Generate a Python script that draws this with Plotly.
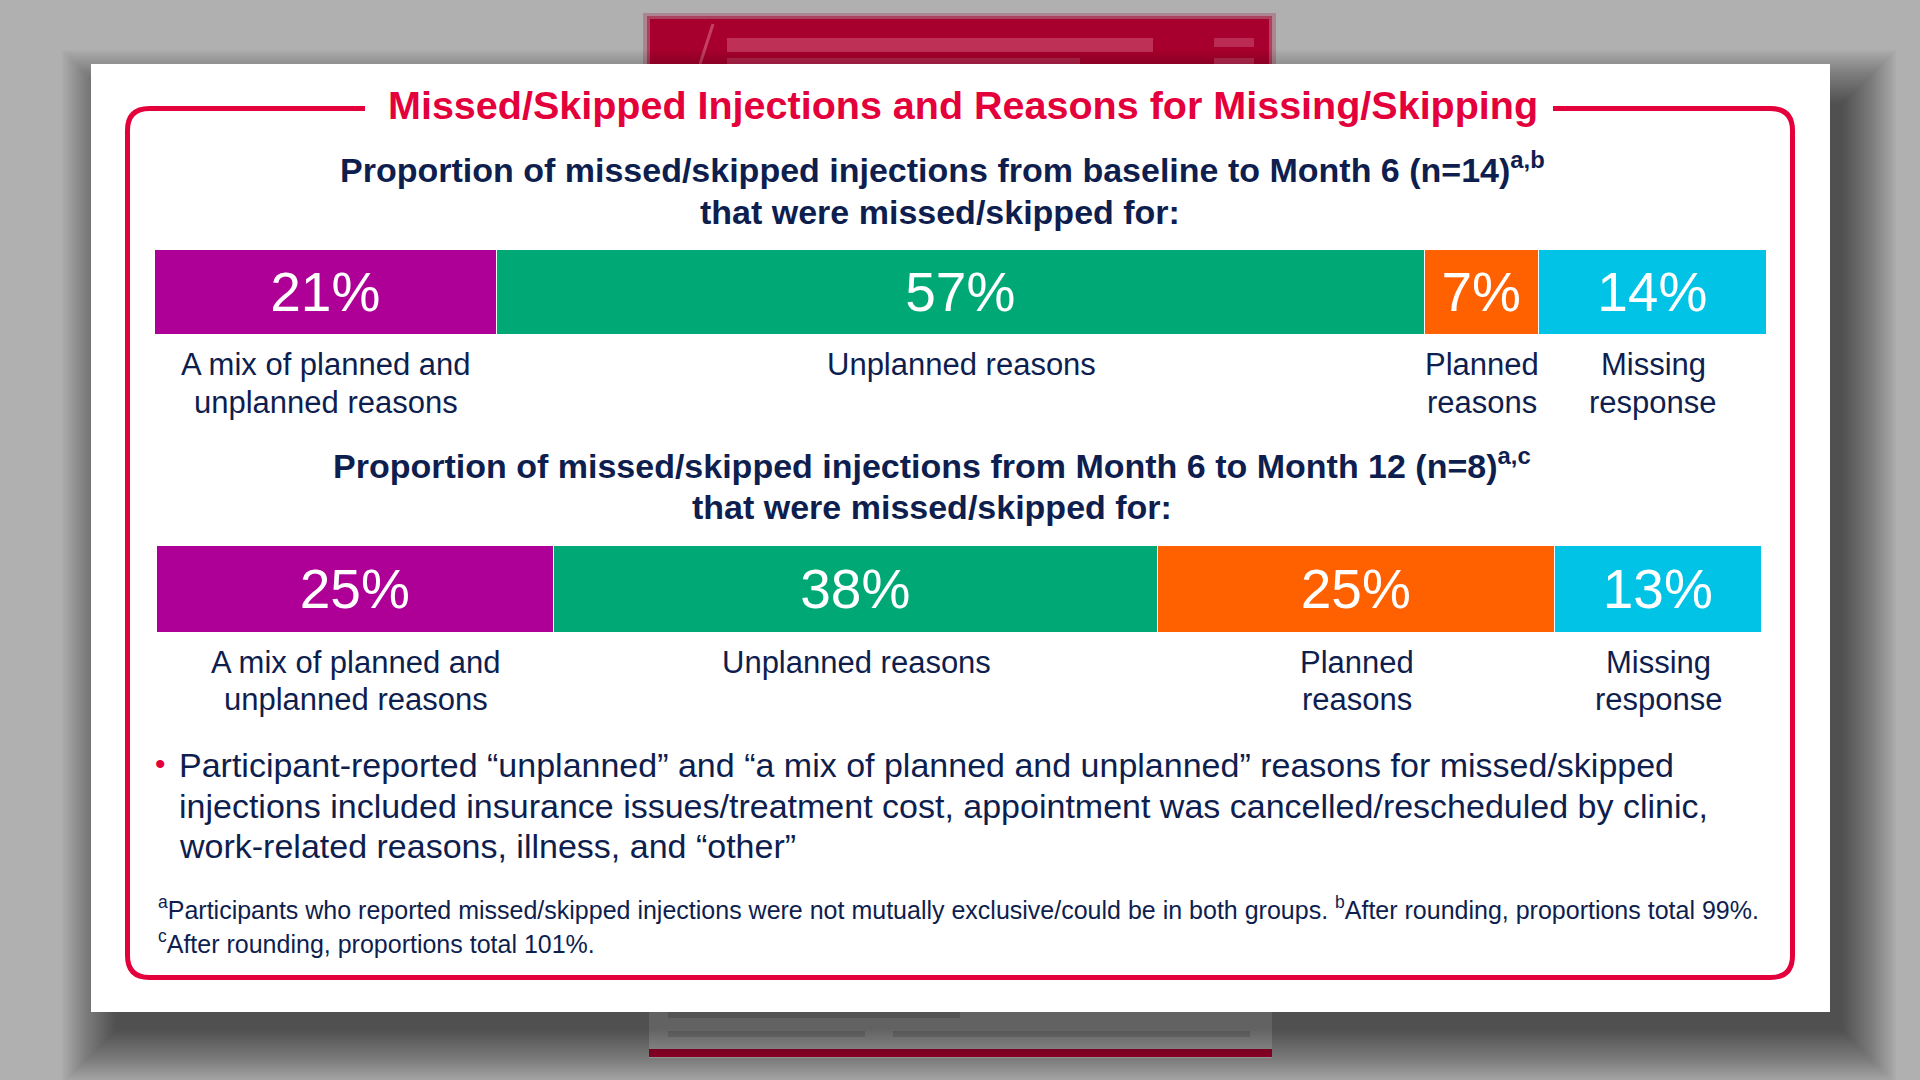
import plotly.graph_objects as go
import numpy as np

W, H = 1920, 1080
FONT = "Arial, 'Liberation Sans', Helvetica, sans-serif"
NAVY = "#0e1e4e"
CRIMSON = "#e4003b"

# ---------------- data ----------------
categories = ["A mix of planned and unplanned reasons", "Unplanned reasons",
              "Planned reasons", "Missing response"]
label_lines = [["A mix of planned and", "unplanned reasons"], ["Unplanned reasons"],
               ["Planned", "reasons"], ["Missing", "response"]]
values_m0_6 = [21, 57, 7, 14]
values_m6_12 = [25, 38, 25, 13]
seg_colors = ["#ae0096", "#00a876", "#ff6000", "#00c3e6"]

title = "Missed/Skipped Injections and Reasons for Missing/Skipping"
subtitle_1 = ["Proportion of missed/skipped injections from baseline to Month 6 (n=14)<sup>a,b</sup>",
              "that were missed/skipped for:"]
subtitle_2 = ["Proportion of missed/skipped injections from Month 6 to Month 12 (n=8)<sup>a,c</sup>",
              "that were missed/skipped for:"]
bullet_lines = [
    "Participant-reported \u201cunplanned\u201d and \u201ca mix of planned and unplanned\u201d reasons for missed/skipped",
    "injections included insurance issues/treatment cost, appointment was cancelled/rescheduled by clinic,",
    "work-related reasons, illness, and \u201cother\u201d",
]
footnote_lines = [
    "<sup>a</sup>Participants who reported missed/skipped injections were not mutually exclusive/could be in both groups. <sup>b</sup>After rounding, proportions total 99%.",
    "<sup>c</sup>After rounding, proportions total 101%.",
]


def px(x):
    return x / W


def py(y):
    return 1 - y / H


fig = go.Figure()

rows = [
    (values_m0_6, "x", "y", "m0_6"),
    (values_m6_12, "x2", "y2", "m6_12"),
]
for vals, xa, ya, rowname in rows:
    for i, cat in enumerate(categories):
        fig.add_trace(go.Bar(
            x=[vals[i]], y=[rowname], orientation="h",
            marker=dict(color=seg_colors[i], line=dict(color="white", width=1.5)),
            text=[f"{vals[i]}%"], textposition="inside", insidetextanchor="middle",
            textfont=dict(size=55, color="white", family=FONT),
            name=cat, showlegend=False, hoverinfo="skip",
            xaxis=xa, yaxis=ya,
        ))

annotations = []

# category labels under bars, positioned by data midpoints
label_rows = [
    (values_m0_6, "x", [364, 402]),
    (values_m6_12, "x2", [662, 699]),
]
for vals, xref, ys in label_rows:
    v = np.array(vals, dtype=float)
    mids = np.cumsum(v) - v / 2
    for i in range(len(categories)):
        for j, line in enumerate(label_lines[i]):
            annotations.append(dict(
                x=mids[i], xref=xref, y=py(ys[j]), yref="paper",
                text=line, showarrow=False, xanchor="center", yanchor="middle",
                font=dict(size=31, color=NAVY, family=FONT),
            ))

# title
annotations.append(dict(
    x=px(963), y=py(105), xref="paper", yref="paper", text=f"<b>{title}</b>",
    showarrow=False, xanchor="center", yanchor="middle",
    font=dict(size=39.5, color=CRIMSON, family=FONT),
))
# subtitles
for lines, xs, ys in [(subtitle_1, [942, 940], [167, 212]), (subtitle_2, [932, 932], [464, 507])]:
    for line, xc, yc in zip(lines, xs, ys):
        annotations.append(dict(
            x=px(xc), y=py(yc), xref="paper", yref="paper", text=f"<b>{line}</b>",
            showarrow=False, xanchor="center", yanchor="middle",
            font=dict(size=34, color=NAVY, family=FONT),
        ))
# bullet
annotations.append(dict(
    x=px(153), y=py(763), xref="paper", yref="paper", text="\u2022",
    showarrow=False, xanchor="left", yanchor="middle",
    font=dict(size=30, color=CRIMSON, family=FONT),
))
for line, yc in zip(bullet_lines, [765, 806, 846]):
    annotations.append(dict(
        x=px(177), y=py(yc), xref="paper", yref="paper", text=line,
        showarrow=False, xanchor="left", yanchor="middle",
        font=dict(size=34, color=NAVY, family=FONT),
    ))
for line, yc in zip(footnote_lines, [908, 942]):
    annotations.append(dict(
        x=px(156), y=py(yc), xref="paper", yref="paper", text=line,
        showarrow=False, xanchor="left", yanchor="middle",
        font=dict(size=25, color=NAVY, family=FONT),
    ))

# ---------------- decoration shapes ----------------
shapes = []


def rect(x0, y0, x1, y1, fill):
    return dict(type="rect", xref="paper", yref="paper", layer="below",
                x0=px(x0), x1=px(x1), y0=py(y1), y1=py(y0),
                fillcolor=fill, line=dict(width=0))


# blurred slide behind (top)
shapes.append(rect(643, 13, 1276, 70, "rgba(168,0,46,0.25)"))
shapes.append(rect(647, 16, 1272, 70, "rgba(168,0,46,0.5)"))
shapes.append(rect(650, 19, 1269, 70, "#a8002e"))
shapes.append(dict(type="line", xref="paper", yref="paper", layer="below",
                   x0=px(713), y0=py(24), x1=px(700), y1=py(64),
                   line=dict(color="rgba(230,140,160,0.45)", width=3)))
shapes.append(rect(727, 38, 1153, 52, "rgba(222,120,148,0.4)"))
shapes.append(rect(727, 58, 1080, 66, "rgba(222,120,148,0.3)"))
shapes.append(rect(1214, 38, 1254, 47, "rgba(222,120,148,0.35)"))
shapes.append(rect(1214, 58, 1254, 66, "rgba(222,120,148,0.35)"))
# blurred slide behind (bottom)
shapes.append(rect(649, 1005, 1272, 1058, "#d0d0d0"))
shapes.append(rect(668, 1012, 960, 1018, "rgba(150,150,150,0.4)"))
shapes.append(rect(668, 1031, 865, 1037, "rgba(150,150,150,0.4)"))
shapes.append(rect(893, 1031, 1250, 1037, "rgba(150,150,150,0.4)"))
shapes.append(rect(649, 1049, 1272, 1057, "#c4003a"))

# card shadow (soft, layered)
CX0, CY0, CX1, CY1 = 91, 64, 1830, 1012
for i in range(28):
    s = 2 * i
    shapes.append(rect(CX0 + 25 - s, CY0 + 40 - s, CX1 + 12 + s, CY1 + 18 + s,
                       "rgba(0,0,0,0.024)"))
# card
shapes.append(rect(CX0, CY0, CX1, CY1, "white"))

# rounded red frame with gap for title
L, R, T, B, r = 127.5, 1792.5, 108.5, 977.5, 22
gapL, gapR = 365, 1553


def P(x, y):
    return f"{px(x):.6f},{py(y):.6f}"


path = (f"M {P(gapL, T)} L {P(L + r, T)} Q {P(L, T)} {P(L, T + r)} "
        f"L {P(L, B - r)} Q {P(L, B)} {P(L + r, B)} "
        f"L {P(R - r, B)} Q {P(R, B)} {P(R, B - r)} "
        f"L {P(R, T + r)} Q {P(R, T)} {P(R - r, T)} L {P(gapR, T)}")
shapes.append(dict(type="path", xref="paper", yref="paper", layer="below", path=path,
                   line=dict(color=CRIMSON, width=5)))

fig.update_layout(
    width=W, height=H,
    margin=dict(l=0, r=0, t=0, b=0),
    paper_bgcolor="#b0b0b0",
    plot_bgcolor="rgba(0,0,0,0)",
    barmode="stack", bargap=0,
    showlegend=False,
    xaxis=dict(domain=[px(155), px(1767)], range=[0, sum(values_m0_6)], visible=False,
               fixedrange=True, anchor="y"),
    yaxis=dict(domain=[py(335), py(250)], visible=False, fixedrange=True, anchor="x"),
    xaxis2=dict(domain=[px(157), px(1762)], range=[0, sum(values_m6_12)], visible=False,
                fixedrange=True, anchor="y2"),
    yaxis2=dict(domain=[py(633), py(546)], visible=False, fixedrange=True, anchor="x2"),
    annotations=annotations,
    shapes=shapes,
    font=dict(family=FONT, color=NAVY),
)

fig.write_html(
    "out.html",
    config={"displayModeBar": False},
    post_script="document.body.style.margin='0';document.body.style.overflow='hidden';",
)
